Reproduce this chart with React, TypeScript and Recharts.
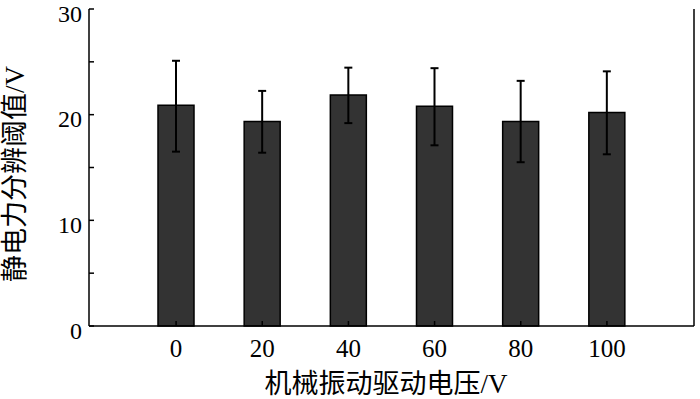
import React from 'react';
import { BarChart, Bar, XAxis, YAxis, ErrorBar, Customized } from 'recharts';

const categories = ['0', '20', '40', '60', '80', '100'];
const means = [20.9, 19.35, 21.85, 20.8, 19.35, 20.2];
const errLow = [16.5, 16.4, 19.2, 17.1, 15.5, 16.25];
const errHigh = [25.1, 22.25, 24.45, 24.4, 23.2, 24.1];
const yTicks = [0, 5, 10, 15, 20, 25, 30];
const yLabel = '静电力分辨阈值/V';
const xLabel = '机械振动驱动电压/V';

const data = categories.map((c, i) => ({
  name: c,
  value: means[i],
  err: [means[i] - errLow[i], errHigh[i] - means[i]],
}));

const FONT = "'Liberation Serif', 'Noto Sans CJK SC', serif";

const YTick = (props: any) => {
  const { x, y, payload } = props;
  const v = payload.value;
  return (
    <g>
      <line x1={x} x2={x + 5} y1={y} y2={y} stroke="#000" strokeWidth={1.5} />
      {v % 10 === 0 && (
        <text x={x - 7} y={y} dy={12.5} textAnchor="end" fontSize={24} fontFamily={FONT} fill="#000">
          {v}
        </text>
      )}
    </g>
  );
};

const XTick = (props: any) => {
  const { x, y, payload } = props;
  return (
    <g>
      <line x1={x} x2={x} y1={y} y2={y - 5} stroke="#000" strokeWidth={1.5} />
      <text x={x} y={y} dy={31} textAnchor="middle" fontSize={25} fontFamily={FONT} fill="#000">
        {payload.value}
      </text>
    </g>
  );
};

const Labels = () => (
  <g>
    <text x={386} y={393} textAnchor="middle" fontSize={27} fontFamily={FONT} fill="#000">
      {xLabel}
    </text>
    <text
      x={0}
      y={0}
      transform="translate(24, 174) rotate(-90)"
      textAnchor="middle"
      fontSize={27}
      fontFamily={FONT}
      fill="#000"
    >
      {yLabel}
    </text>
  </g>
);

export default function App() {
  return (
    <div style={{ position: 'absolute', left: 0, top: 0, width: 700, height: 399, background: '#fff' }}>
      <BarChart width={700} height={399} data={data} margin={{ top: 9, right: 3, bottom: 0, left: 0 }}>
        <XAxis
          dataKey="name"
          type="category"
          height={73}
          padding={{ left: 44, right: 44 }}
          axisLine={{ stroke: '#000', strokeWidth: 1.5 }}
          tickLine={false}
          tickSize={0}
          tickMargin={0}
          tick={<XTick />}
          interval={0}
        />
        <XAxis
          xAxisId="top"
          dataKey="name"
          orientation="top"
          height={0}
          tick={false}
          tickLine={false}
          axisLine={{ stroke: '#000', strokeWidth: 1.5 }}
        />
        <YAxis
          type="number"
          domain={[0, 30]}
          ticks={yTicks}
          width={89}
          axisLine={{ stroke: '#000', strokeWidth: 1.5 }}
          tickLine={false}
          tickSize={0}
          tickMargin={0}
          tick={<YTick />}
          interval={0}
        />
        <YAxis
          yAxisId="right"
          orientation="right"
          type="number"
          domain={[0, 30]}
          width={3}
          tick={false}
          tickLine={false}
          axisLine={{ stroke: '#000', strokeWidth: 1.5 }}
        />
        <Bar dataKey="value" barSize={36} fill="#333333" stroke="#000" strokeWidth={1.5} isAnimationActive={false}>
          <ErrorBar dataKey="err" direction="y" width={4} stroke="#000" strokeWidth={2} />
        </Bar>
        <Customized component={<Labels />} />
      </BarChart>
    </div>
  );
}
